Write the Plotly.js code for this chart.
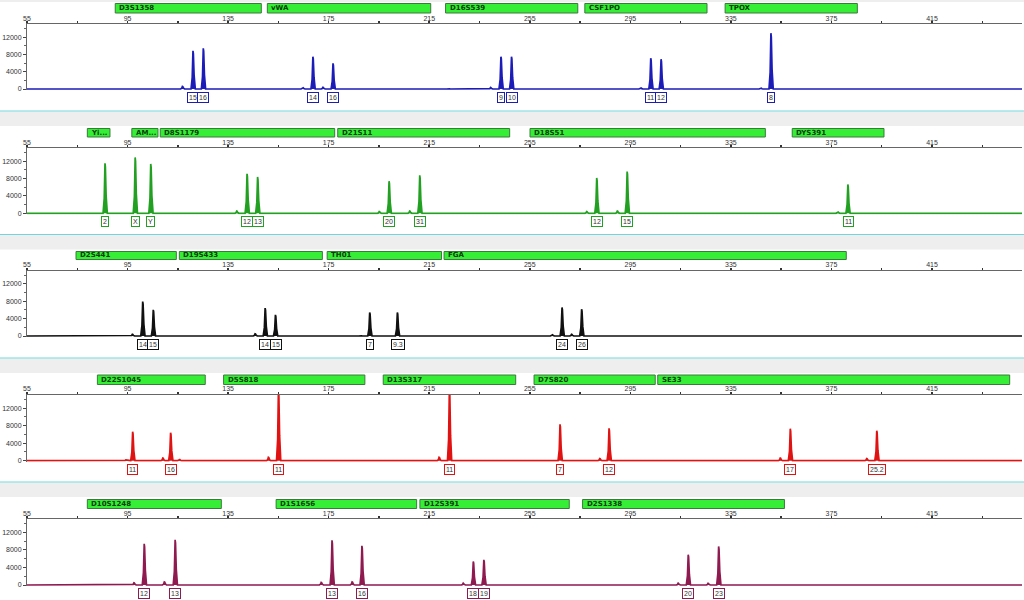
<!DOCTYPE html>
<html>
<head>
<meta charset="utf-8">
<script src="https://cdn.plot.ly/plotly-3.0.1.min.js"></script>
<style>html,body{margin:0;padding:0;background:#fff;}#chart{width:1024px;height:600px;}</style>
</head>
<body>
<div id="chart"></div>
<script>
// ---------- DATA (size in bp, height in RFU) ----------
// Panel 1 (blue)
const p1Loci = ["D3S1358", "vWA", "D16S539", "CSF1PO", "TPOX"];
const p1LociStart = [90.1, 150.6, 221.5, 276.9, 332.7];
const p1LociEnd = [148.2, 215.6, 274.1, 325.5, 385.3];
const p1Alleles = ["15", "16", "14", "16", "9", "10", "11", "12", "8"];
const p1Sizes = [121.1, 125.2, 168.8, 176.8, 243.6, 247.8, 303.2, 307.3, 351.0];
const p1Heights = [8850, 9450, 7500, 5950, 7500, 7500, 7150, 6900, 12950];
const p1StutterSizes = [116.9, 164.8, 172.8, 222.7, 239.5, 299.2, 347.0];
const p1StutterHeights = [600, 300, 400, 120, 350, 250, 200];

// Panel 2 (green)
const p2Loci = ["Yi...", "AM...", "D8S1179", "D21S11", "D18S51", "DYS391"];
const p2LociStart = [79.0, 96.7, 108.0, 178.6, 255.1, 359.4];
const p2LociEnd = [88.0, 107.1, 177.4, 247.0, 348.7, 395.9];
const p2Alleles = ["2", "X", "Y", "12", "13", "20", "31", "12", "15", "11"];
const p2Sizes = [86.1, 98.1, 104.3, 142.6, 146.8, 199.1, 211.3, 281.7, 293.8, 381.6];
const p2Heights = [11550, 12900, 11400, 9100, 8400, 7400, 8750, 8150, 9650, 6650];
const p2StutterSizes = [138.5, 195.2, 207.3, 277.7, 289.9, 377.6];
const p2StutterHeights = [500, 400, 500, 400, 500, 300];

// Panel 3 (black)
const p3Loci = ["D2S441", "D19S433", "TH01", "FGA"];
const p3LociStart = [74.5, 115.6, 174.4, 220.9];
const p3LociEnd = [114.4, 172.5, 219.9, 380.9];
const p3Alleles = ["14", "15", "14", "15", "7", "9.3", "24", "26"];
const p3Sizes = [101.1, 105.3, 149.8, 153.9, 191.4, 202.4, 267.9, 275.7];
const p3Heights = [7900, 6000, 6400, 4850, 5400, 5400, 6550, 6150];
const p3StutterSizes = [97.0, 145.8, 187.7, 264.0, 271.7];
const p3StutterHeights = [400, 500, 150, 300, 400];

// Panel 4 (red)
const p4Loci = ["D22S1045", "D5S818", "D13S317", "D7S820", "SE33"];
const p4LociStart = [83.0, 133.2, 196.7, 256.7, 305.9];
const p4LociEnd = [125.9, 189.4, 249.4, 304.9, 445.9];
const p4Alleles = ["11", "16", "11", "11", "7", "12", "17", "25.2"];
const p4Sizes = [97.1, 112.2, 155.1, 223.1, 267.1, 286.6, 358.7, 393.1];
const p4Heights = [6600, 6400, 16500, 16500, 8300, 7400, 7300, 6850];
const p4StutterSizes = [94.4, 109.1, 115.7, 151.1, 219.0, 282.9, 329.8, 354.7, 389.1];
const p4StutterHeights = [200, 600, 300, 800, 800, 500, 100, 600, 500];

// Panel 5 (maroon)
const p5Loci = ["D10S1248", "D1S1656", "D12S391", "D2S1338"];
const p5LociStart = [79.0, 154.1, 211.3, 276.0];
const p5LociEnd = [132.3, 210.0, 270.7, 356.3];
const p5Alleles = ["12", "13", "13", "16", "18", "19", "20", "23"];
const p5Sizes = [101.7, 114.0, 176.4, 188.3, 232.6, 236.8, 318.1, 330.2];
const p5Heights = [9400, 10300, 10200, 8950, 5350, 5750, 6900, 8800];
const p5StutterSizes = [97.6, 106.0, 109.7, 172.1, 184.4, 228.6, 314.1, 326.0];
const p5StutterHeights = [500, 100, 700, 600, 700, 400, 400, 400];

const xTickVals = [55, 75, 95, 115, 135, 155, 175, 195, 215, 235, 255, 275, 295, 315, 335, 355, 375, 395, 415, 435];
const xTickText = ["55", "", "95", "", "135", "", "175", "", "215", "", "255", "", "295", "", "335", "", "375", "", "415", ""];
const yTickVals = [0, 4000, 8000, 12000];
const yTickText = ["0", "4000", "8000", "12000"];

// ---------- LAYOUT / STYLE ----------
const W = 1024, H = 600;
const panels = [
  {loci: p1Loci, ls: p1LociStart, le: p1LociEnd, al: p1Alleles, sz: p1Sizes, ht: p1Heights, ss: p1StutterSizes, sh: p1StutterHeights,
   color: "#1c1cb8", axisTop: 24.3, base: 89, barTop: 3.5, barBot: 13, label: 97.5, sep: 111},
  {loci: p2Loci, ls: p2LociStart, le: p2LociEnd, al: p2Alleles, sz: p2Sizes, ht: p2Heights, ss: p2StutterSizes, sh: p2StutterHeights,
   color: "#22a022", axisTop: 148.3, base: 213.3, barTop: 128.5, barBot: 137, label: 221, sep: 234.5},
  {loci: p3Loci, ls: p3LociStart, le: p3LociEnd, al: p3Alleles, sz: p3Sizes, ht: p3Heights, ss: p3StutterSizes, sh: p3StutterHeights,
   color: "#111111", axisTop: 270.7, base: 336, barTop: 251.5, barBot: 259.5, label: 344, sep: 358},
  {loci: p4Loci, ls: p4LociStart, le: p4LociEnd, al: p4Alleles, sz: p4Sizes, ht: p4Heights, ss: p4StutterSizes, sh: p4StutterHeights,
   color: "#e01212", axisTop: 395, base: 460.7, barTop: 375, barBot: 384.5, label: 469, sep: 482},
  {loci: p5Loci, ls: p5LociStart, le: p5LociEnd, al: p5Alleles, sz: p5Sizes, ht: p5Heights, ss: p5StutterSizes, sh: p5StutterHeights,
   color: "#8e1a50", axisTop: 519.3, base: 585, barTop: 499.5, barBot: 508.5, label: 593, sep: null}
];
const XMIN = 55, XMAX = 450.8;
const YMIN = -250, YMAX = 15000;
const py = p => 1 - p / H;

const traces = [];
const shapes = [];
const annotations = [];
const layout = {
  width: W, height: H,
  margin: {l: 0, r: 0, t: 0, b: 0},
  paper_bgcolor: "#ffffff", plot_bgcolor: "#ffffff",
  showlegend: false,
  font: {family: "Liberation Sans, Arial, sans-serif", size: 7, color: "#333"}
};

// thin grey band at very top
shapes.push({type: "rect", xref: "paper", yref: "paper", x0: 0, x1: 1, y0: py(2), y1: 1, fillcolor: "#eeeeee", line: {width: 0}, layer: "below"});

panels.forEach((p, i) => {
  const n = i + 1;
  const xa = "x" + (n === 1 ? "" : n), ya = "y" + (n === 1 ? "" : n);
  // peaks: main alleles + stutters, sorted, each a narrow spike on the baseline
  const pk = [];
  p.sz.forEach((s, k) => pk.push({x: s, h: p.ht[k], w: 0.85}));
  p.ss.forEach((s, k) => pk.push({x: s, h: p.sh[k], w: 0.8}));
  pk.sort((a, b) => a.x - b.x);
  const xs = [XMIN], ys = [0];
  pk.forEach(q => {
    xs.push(q.x - q.w, q.x - q.w * 0.45, q.x - 0.08, q.x + 0.08, q.x + q.w * 0.45, q.x + q.w);
    ys.push(0, q.h * 0.3, q.h, q.h * 0.93, q.h * 0.35, 0);
  });
  xs.push(XMAX); ys.push(0);
  traces.push({type: "scatter", mode: "lines", x: xs, y: ys, xaxis: xa, yaxis: ya,
    line: {color: p.color, width: 1.7}, fill: "tozeroy", fillcolor: p.color, hoverinfo: "skip"});

  const xKey = "xaxis" + (n === 1 ? "" : n), yKey = "yaxis" + (n === 1 ? "" : n);
  layout[xKey] = {
    domain: [27 / W, 1022 / W], range: [XMIN, XMAX], anchor: ya, side: "top",
    showline: true, linecolor: "#666", linewidth: 1, mirror: false,
    ticks: "outside", ticklen: 2, tickwidth: 1.5, tickcolor: "#333",
    ticklabelstandoff: -2,
    tickvals: xTickVals, ticktext: xTickText, tickfont: {size: 7, color: "#333"},
    showgrid: false, zeroline: false, fixedrange: true
  };
  layout[yKey] = {
    domain: [py(p.base + 1.1), py(p.axisTop)], range: [YMIN, YMAX], anchor: xa,
    showline: true, linecolor: "#666", linewidth: 1,
    ticks: "outside", ticklen: 3, tickwidth: 1, tickcolor: "#444",
    tickvals: yTickVals, ticktext: yTickText, tickfont: {size: 7, color: "#333"},
    minor: {tickvals: [2000, 6000, 10000, 14000], ticks: "outside", ticklen: 2, tickcolor: "#666"},
    showgrid: false, zeroline: false, fixedrange: true
  };

  // locus bins (green bars) on the panel's x scale
  p.loci.forEach((name, k) => {
    shapes.push({type: "rect", xref: xa, yref: "paper", x0: p.ls[k], x1: p.le[k],
      y0: py(p.barBot), y1: py(p.barTop), fillcolor: "#35ee35", line: {color: "#3a7a3a", width: 1}});
    annotations.push({xref: xa, yref: "paper", x: p.ls[k] + 0.8, y: py((p.barTop + p.barBot) / 2),
      xanchor: "left", yanchor: "middle", showarrow: false, text: "<b>" + name + "</b>",
      font: {family: "DejaVu Sans, sans-serif", size: 7, color: "#0b3d0b"}});
  });

  // allele label boxes
  p.al.forEach((lab, k) => {
    annotations.push({xref: xa, yref: "paper", x: p.sz[k], y: py(p.label),
      xanchor: "center", yanchor: "middle", showarrow: false, text: lab,
      font: {family: "Liberation Sans, Arial, sans-serif", size: 7, color: "#333"},
      bordercolor: p.color, borderwidth: 1, borderpad: 1, bgcolor: "#ffffff"});
  });

  // panel separator: cyan line + grey band
  if (p.sep !== null) {
    shapes.push({type: "rect", xref: "paper", yref: "paper", x0: 0, x1: 1, y0: py(p.sep + 15), y1: py(p.sep + 0.5),
      fillcolor: "#eeeeee", line: {width: 0}, layer: "below"});
    shapes.push({type: "line", xref: "paper", yref: "paper", x0: 0, x1: 1, y0: py(p.sep), y1: py(p.sep),
      line: {color: "#6fd6dc", width: 1}});
  }
});

layout.shapes = shapes;
layout.annotations = annotations;
Plotly.newPlot("chart", traces, layout, {displayModeBar: false, staticPlot: true});
</script>
</body>
</html>
